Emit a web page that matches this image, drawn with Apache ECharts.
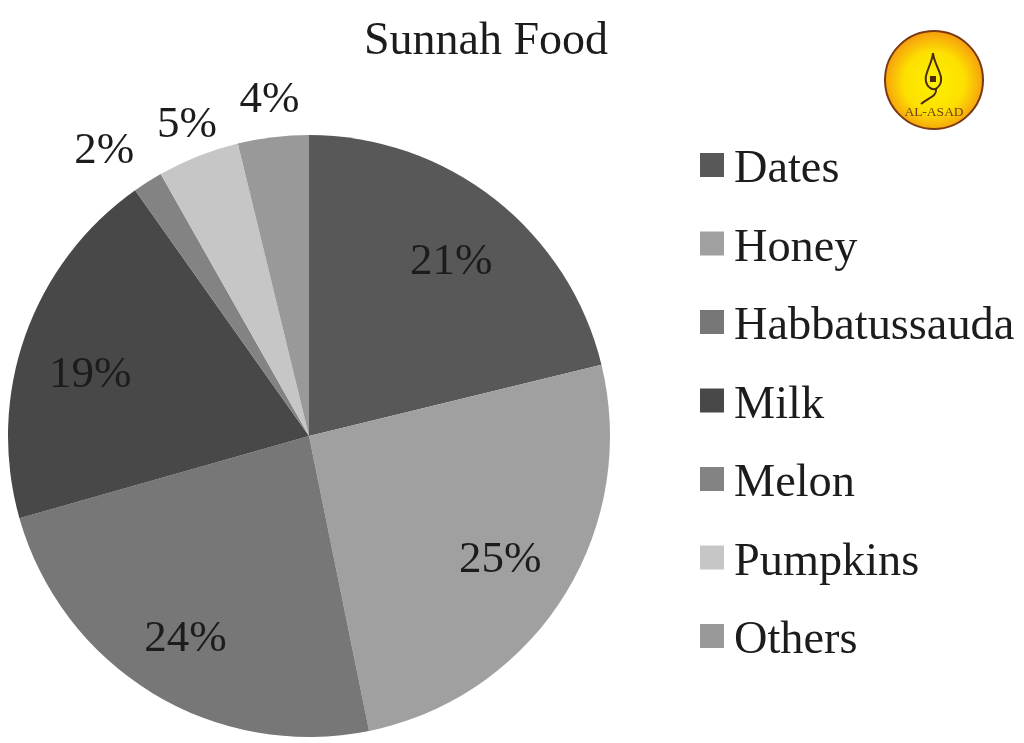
<!doctype html>
<html>
<head>
<meta charset="utf-8">
<title>Sunnah Food</title>
<script src="https://cdn.jsdelivr.net/npm/echarts@6/dist/echarts.min.js"></script>
<style>
html, body { margin: 0; width: 100%; height: 100%; background: #fff; overflow: hidden; }
#container { width: 1024px; height: 743px; }
</style>
</head>
<body>
<div id="container"></div>
<script>
var categories = ["Dates", "Honey", "Habbatussauda", "Milk", "Melon", "Pumpkins", "Others"];
// slice sizes as drawn in the picture
var sliceValues = [21.2, 25.6, 23.8, 19.6, 1.6, 4.4, 3.8];
// percent labels as printed on the picture
var printedLabels = ["21%", "25%", "24%", "19%", "2%", "5%", "4%"];
var colors = ["#585858", "#a0a0a0", "#777777", "#484848", "#838383", "#c6c6c6", "#999999"];

var serif = '"Liberation Serif", "Times New Roman", serif';
var textColor = "#1c1c1c";
var cx = 309, cy = 436, R = 301;
var labelRadius = [0.76, 0.76, 0.77, 0.76, 1.17, 1.12, 1.13];
var labelNudgeX = [1, -2, -3, -3, -16, 2, 1];
var labelNudgeY = [6, 2, 5, 15, 13, 3, 2];

var total = sliceValues.reduce(function (a, b) { return a + b; }, 0);

var logoStroke = { fill: "none", stroke: "#4a2a10", lineWidth: 2 };

var myChart = echarts.init(document.getElementById("container"));

myChart.setOption({
	animation: false,
	backgroundColor: "#fff",
	title: {
		text: "Sunnah Food",
		left: 481,
		textAlign: "center",
		top: 14,
		textStyle: { fontFamily: serif, fontSize: 46, fontWeight: "normal", color: textColor }
	},
	legend: {
		orient: "vertical",
		left: 700,
		top: 147,
		icon: "rect",
		itemWidth: 24,
		itemHeight: 24,
		itemGap: 32.5,
		padding: 0,
		selectedMode: false,
		data: categories,
		formatter: "{t|{name}}",
		textStyle: {
			padding: [10, 0, 0, 5],
			rich: {
				t: { fontFamily: serif, fontSize: 46.3, color: textColor, lineHeight: 50 }
			}
		}
	},
	graphic: [
		{
			type: "circle",
			shape: { cx: 934, cy: 80, r: 49 },
			style: {
				fill: new echarts.graphic.RadialGradient(0.5, 0.52, 0.55, [
					{ offset: 0, color: "#fdf000" },
					{ offset: 0.55, color: "#fde000" },
					{ offset: 1, color: "#f48e12" }
				]),
				stroke: "#7a3a12",
				lineWidth: 2
			}
		},
		// calligraphy mark of the logo
		{
			type: "bezierCurve",
			shape: { x1: 933, y1: 53, cpx1: 934, cpy1: 66, cpx2: 947, cpy2: 78, x2: 938, y2: 87 },
			style: logoStroke
		},
		{
			type: "bezierCurve",
			shape: { x1: 933, y1: 53, cpx1: 932, cpy1: 66, cpx2: 920, cpy2: 78, x2: 929, y2: 87 },
			style: logoStroke
		},
		{
			type: "bezierCurve",
			shape: { x1: 929, y1: 87, cpx1: 932, cpy1: 90, cpx2: 936, cpy2: 90, x2: 938, y2: 87 },
			style: logoStroke
		},
		{
			type: "bezierCurve",
			shape: { x1: 936, y1: 89, cpx1: 937, cpy1: 96, cpx2: 930, cpy2: 97, x2: 921, y2: 104 },
			style: logoStroke
		},
		{
			type: "rect",
			shape: { x: 930, y: 76, width: 6, height: 6 },
			style: { fill: "#4a2a10" }
		},
		{
			type: "text",
			style: {
				text: "AL-ASAD", x: 934, y: 112, align: "center", verticalAlign: "middle",
				font: "13.5px " + serif, fill: "#6e4210"
			}
		}
	],
	series: [{
		type: "pie",
		center: [cx, cy],
		radius: [0, R],
		startAngle: 90,
		clockwise: true,
		silent: true,
		data: categories.map(function (name, i) {
			return { name: name, value: sliceValues[i], itemStyle: { color: colors[i] } };
		}),
		label: {
			show: true,
			position: "inside",
			fontFamily: serif,
			fontSize: 45,
			color: textColor,
			formatter: function (p) { return printedLabels[p.dataIndex]; }
		},
		labelLine: { show: false },
		labelLayout: function (p) {
			var i = p.dataIndex, before = 0;
			for (var k = 0; k < i; k++) before += sliceValues[k];
			var a = (before + sliceValues[i] / 2) / total * 2 * Math.PI;
			return {
				x: cx + Math.sin(a) * R * labelRadius[i] + labelNudgeX[i],
				y: cy - Math.cos(a) * R * labelRadius[i] + labelNudgeY[i],
				align: "center",
				verticalAlign: "middle"
			};
		}
	}]
});
</script>
</body>
</html>
